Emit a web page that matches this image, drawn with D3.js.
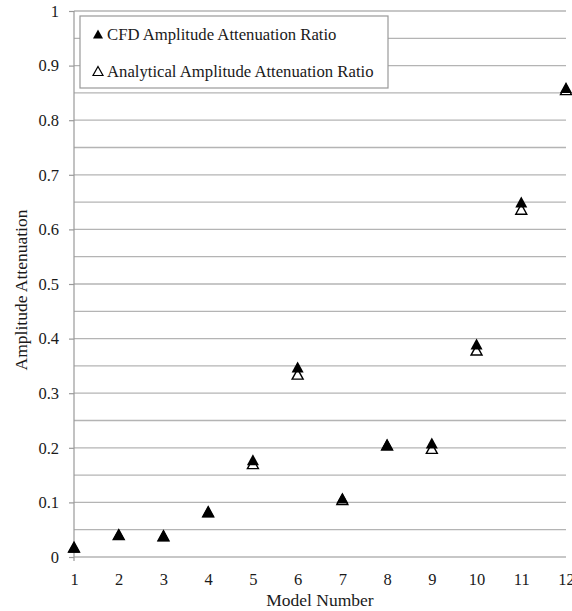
<!DOCTYPE html>
<html>
<head>
<meta charset="utf-8">
<script src="https://cdn.jsdelivr.net/npm/d3@7"></script>
<style>
  body { margin: 0; background: #fff; }
  text { font-family: "Liberation Serif", "Times New Roman", serif; fill: #1a1a1a; }
</style>
</head>
<body>
<svg></svg>
<script>
let models = [1, 2, 3, 4, 5, 6, 7, 8, 9, 10, 11, 12];
let cfdValues = [0.018, 0.041, 0.039, 0.083, 0.178, 0.348, 0.108, 0.206, 0.209, 0.39, 0.65, 0.86];
let analyticalValues = [0.018, 0.041, 0.039, 0.083, 0.171, 0.335, 0.105, 0.205, 0.199, 0.379, 0.637, 0.856];
let yTicks = [0, 0.1, 0.2, 0.3, 0.4, 0.5, 0.6, 0.7, 0.8, 0.9, 1];
let gridValues = d3.range(0, 21).map((i) => i / 20);
let legendLabels = ["CFD Amplitude Attenuation Ratio", "Analytical Amplitude Attenuation Ratio"];

let width = 572;
let height = 611;
let plotLeft = 74;
let plotRight = 566;
let plotTop = 11;
let plotBottom = 557;

let svg = d3.select("svg");
let xScale;
let yScale;

// triangle centred on its bounding box, like the spreadsheet markers
let triangle = (w, h) => ({
  draw: (ctx) => {
    ctx.moveTo(0, -h / 2);
    ctx.lineTo(w / 2, h / 2);
    ctx.lineTo(-w / 2, h / 2);
    ctx.closePath();
  },
});

let drawCanvas = () => {
  svg.attr("width", width).attr("height", height);
};

let generateScales = () => {
  xScale = d3.scaleLinear().domain([1, 12]).range([plotLeft, plotRight]);
  yScale = d3.scaleLinear().domain([0, 1]).range([plotBottom, plotTop]);
};

let drawGrid = () => {
  svg
    .append("g")
    .selectAll("line")
    .data(gridValues)
    .enter()
    .append("line")
    .attr("x1", plotLeft)
    .attr("x2", plotRight)
    .attr("y1", (d) => yScale(d))
    .attr("y2", (d) => yScale(d))
    .attr("stroke", "#b4b4b4")
    .attr("stroke-width", 1.3);
};

let generateAxes = () => {
  let yAxis = d3
    .axisLeft(yScale)
    .tickValues(yTicks)
    .tickSize(5)
    .tickPadding(10)
    .tickFormat((d) => (d === 0 || d === 1 ? d3.format("d")(d) : d3.format(".1f")(d)));

  let gy = svg
    .append("g")
    .attr("transform", "translate(" + plotLeft + ", 0)")
    .call(yAxis);
  gy.attr("font-family", null).attr("font-size", null);
  gy.select(".domain").remove();
  gy.selectAll(".tick line").attr("stroke", "#999").attr("stroke-width", 1.2);
  gy.selectAll(".tick text")
    .style("font-family", "'Liberation Serif', serif")
    .style("font-size", "16.5px")
    .attr("fill", "#1a1a1a");

  svg
    .append("line")
    .attr("x1", plotLeft)
    .attr("x2", plotLeft)
    .attr("y1", plotTop)
    .attr("y2", plotBottom + 4)
    .attr("stroke", "#999")
    .attr("stroke-width", 1.2);

  let xAxis = d3
    .axisBottom(xScale)
    .tickValues(models)
    .tickSize(0)
    .tickPadding(16)
    .tickFormat(d3.format("d"));

  let gx = svg
    .append("g")
    .attr("transform", "translate(0, " + plotBottom + ")")
    .call(xAxis);
  gx.attr("font-family", null).attr("font-size", null);
  gx.select(".domain").remove();
  gx.selectAll(".tick text")
    .style("font-family", "'Liberation Serif', serif")
    .style("font-size", "16.5px")
    .attr("fill", "#1a1a1a");

  svg
    .append("text")
    .attr("x", (plotLeft + plotRight) / 2)
    .attr("y", 606)
    .attr("text-anchor", "middle")
    .style("font-size", "17.5px")
    .text("Model Number");

  svg
    .append("text")
    .attr("transform", "translate(27, " + (plotTop + plotBottom + 12) / 2 + ") rotate(-90)")
    .attr("text-anchor", "middle")
    .style("font-size", "17.5px")
    .text("Amplitude Attenuation");
};

let drawLegend = () => {
  let legend = svg.append("g").attr("transform", "translate(80, 16)");

  legend
    .append("rect")
    .attr("width", 308)
    .attr("height", 72)
    .attr("fill", "#fff")
    .attr("stroke", "#999")
    .attr("stroke-width", 1.2);

  let rows = legend
    .selectAll(".row")
    .data(legendLabels)
    .enter()
    .append("g")
    .attr("transform", (d, i) => "translate(18, " + (18 + i * 37) + ")");

  rows
    .append("path")
    .attr("d", d3.symbol(triangle(10, 9)))
    .attr("fill", (d, i) => (i === 0 ? "#000" : "#fff"))
    .attr("stroke", "#000")
    .attr("stroke-width", (d, i) => (i === 0 ? 0 : 1.2));

  rows
    .append("text")
    .attr("x", 9)
    .attr("y", 5.5)
    .style("font-size", "16.7px")
    .text((d) => d);
};

let drawPoints = () => {
  svg
    .append("g")
    .selectAll("path")
    .data(models)
    .enter()
    .append("path")
    .attr("d", d3.symbol(triangle(11, 10)))
    .attr("transform", (d, i) => "translate(" + xScale(d) + ", " + yScale(analyticalValues[i]) + ")")
    .attr("fill", "#fff")
    .attr("stroke", "#000")
    .attr("stroke-width", 1.4);

  svg
    .append("g")
    .selectAll("path")
    .data(models)
    .enter()
    .append("path")
    .attr("d", d3.symbol(triangle(12, 11)))
    .attr("transform", (d, i) => "translate(" + xScale(d) + ", " + yScale(cfdValues[i]) + ")")
    .attr("fill", "#000");
};

drawCanvas();
generateScales();
drawGrid();
generateAxes();
drawLegend();
drawPoints();
</script>
</body>
</html>
